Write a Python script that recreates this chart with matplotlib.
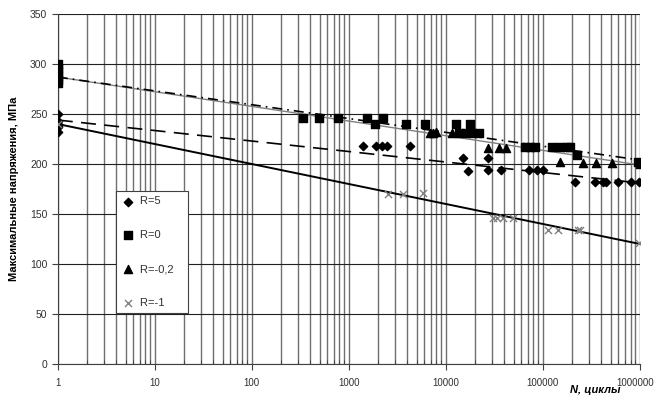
import numpy as np
import matplotlib
matplotlib.use("Agg")
import matplotlib.pyplot as plt
import matplotlib.transforms as mtransforms
from matplotlib.ticker import LogLocator, NullFormatter

plt.rcParams['font.family'] = ['Liberation Sans', 'DejaVu Sans']

# R=5
n_r5 = [1, 1, 1, 1, 1, 1390, 1900, 2190, 2470, 4250, 15000, 17000, 27000, 27000,
        37000, 72000, 87000, 100000, 214000, 345000, 414000, 447000, 590000, 810000, 980000]
s_r5 = [250, 243, 240, 237, 232, 218, 218, 218, 218, 218, 206, 193, 206, 194,
        194, 194, 194, 194, 182, 182, 182, 182, 182, 182, 182]
# R=0
n_r0 = [1, 1, 1, 1, 1, 1, 335, 490, 770, 1520, 1860, 2240, 3880, 6050, 12600, 17700,
        13800, 16000, 18600, 22000, 65000, 74000, 83000, 123000, 150000, 177000,
        190000, 224000, 950000, 1000000]
s_r0 = [300, 296, 292, 288, 284, 281, 246, 246, 246, 246, 240, 246, 240, 240, 240, 240,
        231, 231, 231, 231, 217, 217, 217, 217, 217, 217, 217, 209, 202, 200]
# R=-0,2
n_r02 = [1, 6900, 7400, 8000, 11500, 27000, 35000, 42000, 150000, 260000, 355000, 515000]
s_r02 = [242, 231, 231, 232, 231, 216, 216, 216, 202, 201, 201, 201]
# R=-1
n_r1 = [1, 2530, 3600, 5800, 30500, 33500, 39000, 49000, 113000, 142000, 230000, 240000, 980000]
s_r1 = [240, 170, 170, 171, 146, 146, 146, 146, 134, 134, 134, 134, 121]

# trend lines (log-linear fits), values at N=1 and N=1e6
fit_n = [1, 1000000]
fit_r5 = [244, 181]
fit_r0 = [287, 204]
fit_r02 = [287, 199]
fit_r1 = [240, 120]

xlabels = ['1', '10', '100', '1000', '10000', '100000', '1000000']

fig = plt.figure(figsize=(6.57, 4.03), dpi=100)
ax = fig.add_axes([0.088, 0.097, 0.886, 0.868])

ax.set_xscale('log')
ax.set_xlim(1, 1e6)
ax.set_ylim(0, 350)

ax.xaxis.set_minor_locator(LogLocator(base=10, subs=np.arange(2, 10), numticks=10))
ax.xaxis.set_minor_formatter(NullFormatter())
ax.set_xticks([10 ** i for i in range(7)])
ax.set_xticklabels(xlabels)
ax.set_yticks(np.arange(0, 351, 50))

ax.grid(True, which='major', axis='y', color='#202020', lw=0.8)
ax.grid(True, which='both', axis='x', color='#707070', lw=1.0)
ax.set_axisbelow(True)

for sp in ['top', 'right']:
    ax.spines[sp].set_visible(False)
ax.spines['left'].set_color('#404040')
ax.spines['bottom'].set_color('#404040')

ax.tick_params(axis='both', which='major', labelsize=7.5, colors='#404040',
               labelcolor='#303030', length=4, direction='out')
ax.tick_params(axis='x', which='major', labelsize=7, pad=6)
ax.tick_params(axis='x', which='minor', length=3, direction='in', colors='#404040')

# nudge the last x label so it stays inside the picture
last = ax.get_xticklabels()[-1]
last.set_transform(last.get_transform() +
                   mtransforms.ScaledTranslation(-5 / 100, 0, fig.dpi_scale_trans))

ax.plot(fit_n, fit_r02, color='#808080', lw=1.0, zorder=3)
ax.plot(fit_n, fit_r0, color='black', lw=1.2, ls=(0, (6, 3, 1, 3)), zorder=3)
ax.plot(fit_n, fit_r5, color='black', lw=1.2, ls=(0, (9, 5)), zorder=3)
ax.plot(fit_n, fit_r1, color='black', lw=1.4, zorder=3)

ax.scatter(n_r5, s_r5, marker='D', s=18, color='black', label='R=5', zorder=4)
ax.scatter(n_r0, s_r0, marker='s', s=28, color='black', label='R=0', zorder=4)
ax.scatter(n_r02, s_r02, marker='^', s=34, color='black', label='R=-0,2', zorder=4)
ax.scatter(n_r1, s_r1, marker='x', s=26, color='#808080', linewidths=1.0, label='R=-1', zorder=4)

leg = ax.legend(loc='upper left', bbox_to_anchor=(0.1, 0.493), fontsize=8,
                frameon=True, fancybox=False, labelspacing=2.15, borderpad=0.45,
                handletextpad=0.4, handlelength=1.3, borderaxespad=0)
leg.get_frame().set_edgecolor('#404040')
leg.get_frame().set_linewidth(0.8)
leg.get_frame().set_alpha(1)
for t in leg.get_texts():
    t.set_color('#303030')
    t.set_text(t.get_text() + '   ')

ax.set_ylabel('Максимальные напряжения, МПа', fontsize=8, fontweight='bold', labelpad=8)
fig.text(0.945, 0.02, 'N, циклы', fontsize=8, fontweight='bold', style='italic',
         ha='right', va='bottom')

fig.savefig('out.png', dpi=100)
